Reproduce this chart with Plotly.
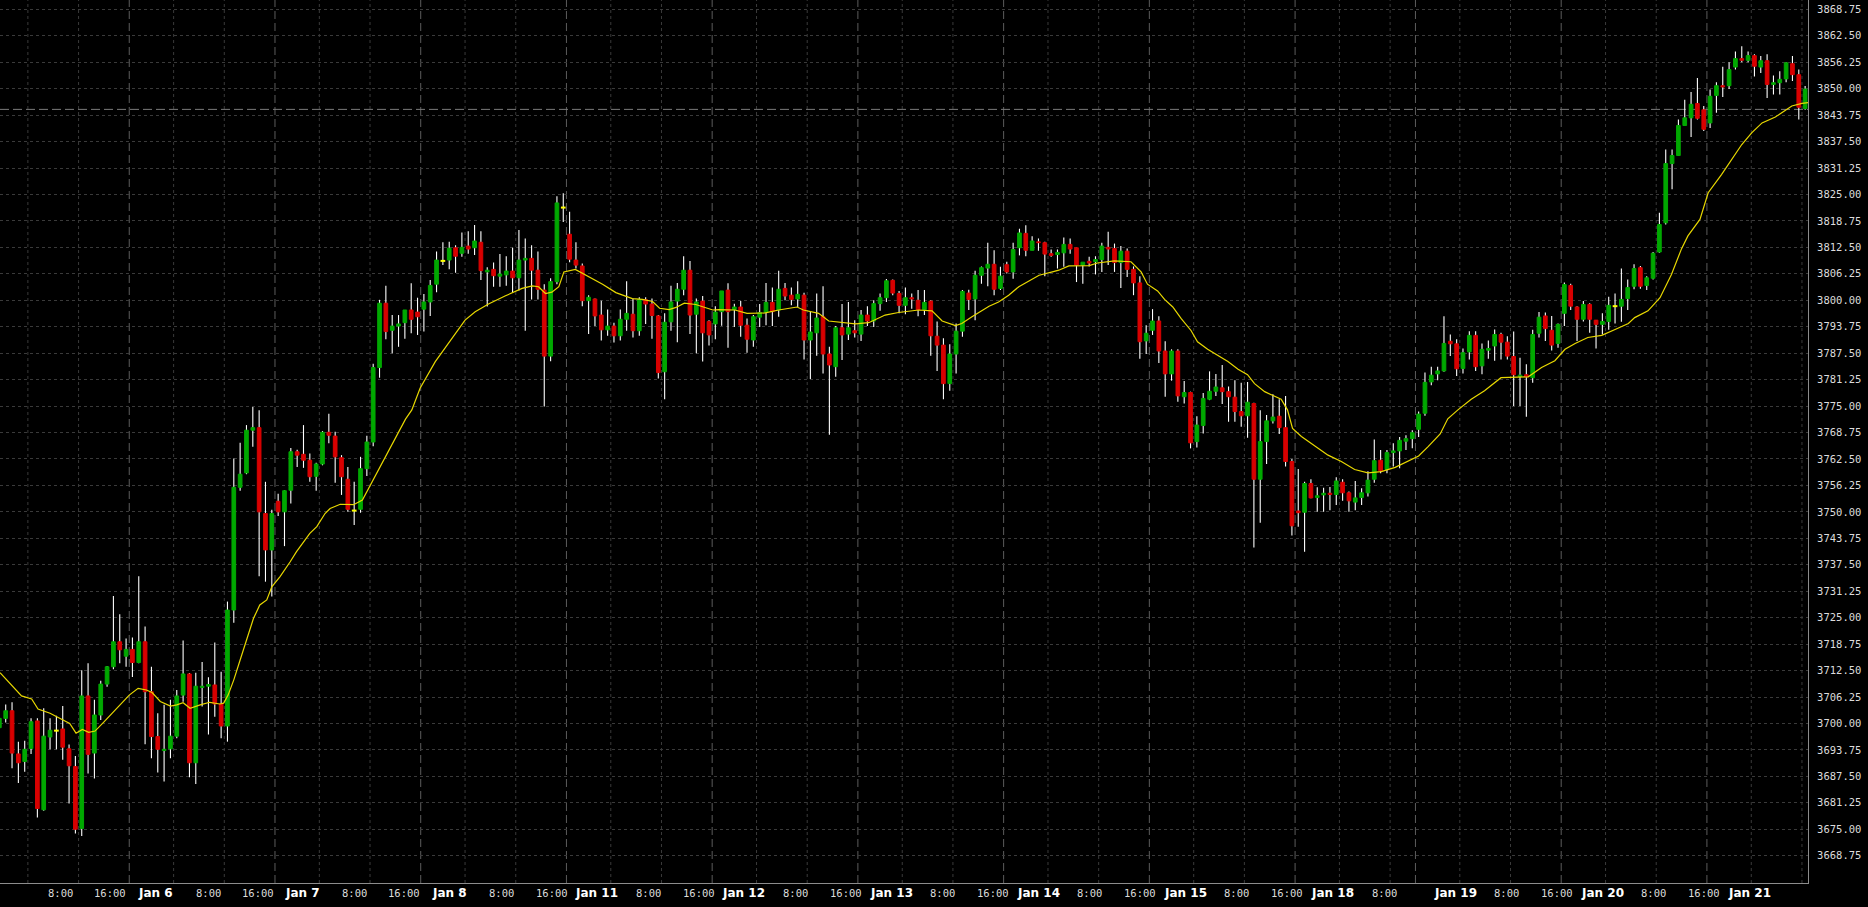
import plotly.graph_objects as go

# ---------------- data ----------------
bar_open = [
 3699.0,3701.2,3703.0,3692.8,3691.0,3694.1,3700.6,3679.6,3696.8,3698.3,
 3698.7,3694.0,3689.8,3675.2,3706.5,3693.0,3702.0,3709.3,3713.4,3719.3,
 3715.9,3717.5,3714.4,3719.3,3707.5,3696.9,3693.6,3694.0,3697.0,3706.7,
 3711.7,3690.7,3708.5,3708.8,3709.1,3704.6,3699.4,3726.8,3755.8,3759.2,
 3769.3,3769.9,3749.6,3741.0,3752.5,3750.0,3755.1,3764.2,3763.6,3762.2,
 3758.4,3761.3,3768.8,3767.9,3762.8,3757.7,3750.3,3750.6,3760.2,3766.5,
 3784.1,3799.3,3792.9,3793.9,3794.7,3797.7,3797.2,3797.9,3799.6,3803.8,
 3809.3,3809.5,3812.4,3811.1,3812.8,3812.4,3813.7,3806.7,3807.3,3805.7,
 3806.0,3806.9,3805.3,3809.5,3809.9,3807.1,3802.4,3786.8,3804.4,3821.9,
 3815.6,3809.5,3808.1,3799.9,3800.3,3796.5,3793.0,3793.9,3791.6,3795.5,
 3796.7,3792.8,3800.1,3799.1,3796.3,3783.1,3794.9,3799.8,3802.6,3807.1,
 3796.7,3799.8,3795.0,3794.4,3797.3,3802.4,3797.8,3798.4,3794.1,3790.6,
 3796.0,3797.1,3799.5,3797.7,3802.8,3801.2,3800.3,3801.2,3790.6,3792.3,
 3796.1,3787.3,3784.3,3793.5,3792.0,3792.8,3792.0,3796.5,3795.1,3799.2,
 3800.6,3804.7,3801.6,3798.8,3800.6,3800.0,3797.8,3799.8,3791.5,3789.4,
 3780.3,3787.3,3792.7,3801.7,3800.3,3805.9,3807.6,3808.5,3802.8,3808.4,
 3806.7,3812.4,3815.8,3811.8,3813.8,3813.6,3811.0,3810.8,3811.2,3813.2,
 3812.4,3808.3,3809.2,3809.1,3809.6,3812.5,3812.2,3808.9,3811.6,3807.3,
 3804.1,3790.4,3792.9,3795.1,3788.0,3782.6,3788.0,3777.2,3778.2,3766.6,
 3770.4,3776.6,3778.5,3779.3,3778.4,3777.1,3773.7,3772.7,3775.6,3757.7,
 3766.6,3771.5,3772.6,3769.9,3761.9,3750.2,3749.9,3756.7,3753.4,3754.0,
 3754.4,3754.1,3757.0,3754.5,3752.3,3753.4,3754.5,3757.7,3762.2,3760.0,
 3764.0,3764.4,3766.7,3767.3,3769.5,3773.3,3780.7,3782.6,3783.3,3790.3,
 3789.7,3783.9,3787.8,3791.7,3784.5,3788.2,3789.2,3791.9,3790.1,3786.7,
 3782.0,3782.4,3781.7,3792.2,3796.3,3792.9,3789.8,3796.9,3803.5,3798.4,
 3795.5,3799.0,3795.3,3794.3,3795.0,3798.6,3798.6,3800.4,3803.3,3807.7,
 3803.5,3805.2,3811.4,3818.3,3832.3,3834.2,3841.3,3843.1,3846.5,3845.0,
 3841.9,3848.4,3850.7,3850.7,3855.1,3857.1,3856.7,3857.8,3855.1,3856.6,
 3851.0,3851.4,3852.3,3855.9,3853.3,3845.3]
bar_high = [
 3702.0,3704.5,3705.0,3695.7,3695.9,3701.2,3701.2,3703.6,3701.2,3701.8,
 3704.1,3695.0,3692.3,3712.6,3714.2,3705.6,3710.1,3713.6,3730.1,3725.8,
 3720.1,3720.3,3734.8,3722.9,3713.4,3702.4,3704.4,3705.6,3707.9,3719.6,
 3711.9,3712.0,3714.5,3710.9,3719.1,3712.2,3728.8,3762.6,3766.3,3770.5,
 3774.8,3774.0,3757.1,3750.5,3754.3,3755.1,3765.1,3764.7,3770.5,3763.8,
 3761.6,3769.1,3773.2,3768.9,3763.4,3760.6,3757.1,3763.0,3768.0,3785.0,
 3800.1,3803.4,3796.5,3796.5,3797.7,3804.0,3800.6,3801.5,3804.8,3811.5,
 3813.7,3813.8,3813.0,3816.0,3816.3,3817.8,3816.3,3807.8,3808.9,3810.9,
 3810.4,3812.4,3816.6,3814.6,3813.0,3811.5,3803.8,3805.2,3824.6,3825.3,
 3820.9,3813.7,3808.7,3801.2,3800.4,3799.9,3797.8,3794.7,3797.8,3804.5,
 3800.4,3800.7,3800.7,3800.4,3796.5,3796.9,3803.4,3804.1,3810.4,3809.3,
 3800.4,3801.0,3795.3,3798.6,3802.2,3804.0,3799.2,3799.8,3795.7,3796.5,
 3799.1,3804.1,3803.0,3807.0,3804.1,3803.0,3804.5,3801.8,3797.3,3801.6,
 3803.3,3789.0,3793.9,3799.1,3799.6,3795.3,3797.7,3798.6,3800.0,3801.6,
 3805.0,3804.9,3802.2,3803.0,3801.6,3802.4,3802.4,3800.0,3795.0,3791.0,
 3789.6,3794.5,3802.4,3802.5,3807.0,3808.0,3813.6,3811.8,3807.9,3809.1,
 3813.6,3816.9,3817.7,3815.1,3814.6,3813.8,3812.0,3812.0,3814.8,3814.6,
 3812.4,3808.8,3810.3,3810.4,3813.6,3816.2,3813.4,3812.8,3812.2,3808.0,
 3805.7,3794.1,3797.9,3796.2,3790.3,3788.4,3788.4,3780.9,3778.4,3772.6,
 3778.1,3783.2,3782.6,3784.7,3779.6,3781.1,3780.5,3780.7,3775.8,3774.0,
 3772.9,3777.8,3776.6,3777.4,3762.5,3760.1,3757.1,3757.7,3755.8,3755.7,
 3755.9,3758.2,3757.7,3754.8,3757.3,3755.6,3759.6,3767.1,3764.6,3764.6,
 3766.2,3767.7,3768.1,3769.3,3773.7,3782.9,3784.3,3784.3,3796.2,3791.9,
 3790.8,3788.6,3792.7,3792.7,3789.8,3790.5,3793.1,3792.3,3791.5,3792.6,
 3786.4,3784.9,3793.0,3797.2,3797.1,3796.3,3794.5,3804.2,3803.9,3798.6,
 3799.8,3799.3,3795.3,3796.9,3800.8,3801.6,3807.5,3804.9,3808.5,3808.1,
 3805.7,3811.4,3820.7,3835.6,3835.6,3842.7,3847.4,3849.2,3852.5,3845.9,
 3849.8,3851.5,3855.2,3856.25,3858.8,3860.0,3858.8,3858.1,3857.7,3858.1,
 3853.1,3854.1,3856.25,3857.7,3854.5,3850.6]
bar_low = [
 3697.5,3700.2,3689.4,3685.9,3688.6,3692.8,3677.8,3679.4,3693.9,3693.9,
 3691.4,3681.1,3674.0,3673.4,3688.2,3687.0,3700.8,3708.7,3712.8,3714.2,
 3713.4,3711.0,3714.2,3695.1,3691.8,3688.4,3686.3,3691.8,3696.5,3705.1,
 3687.3,3685.7,3704.0,3697.4,3701.6,3696.5,3695.7,3723.8,3755.0,3758.9,
 3765.4,3734.8,3733.5,3730.0,3749.0,3741.9,3752.0,3760.6,3760.4,3757.1,
 3755.0,3761.0,3766.2,3756.9,3754.0,3750.0,3746.9,3749.8,3758.5,3765.5,
 3781.7,3790.8,3787.5,3789.0,3790.9,3792.2,3791.8,3792.6,3796.3,3801.9,
 3808.3,3807.3,3806.5,3810.3,3811.0,3810.7,3804.8,3798.5,3803.2,3803.2,
 3803.4,3801.8,3802.3,3792.8,3800.2,3800.2,3774.9,3785.6,3803.8,3818.5,
 3809.0,3807.5,3798.6,3792.0,3793.9,3790.5,3791.6,3790.0,3790.5,3792.8,
 3791.2,3791.6,3794.4,3790.9,3781.5,3776.6,3792.8,3790.1,3801.2,3792.0,
 3787.5,3785.5,3789.3,3790.8,3794.0,3788.8,3793.7,3791.4,3787.6,3789.0,
 3793.7,3794.1,3793.9,3796.1,3800.0,3798.8,3798.4,3786.0,3781.4,3786.9,
 3782.7,3768.2,3781.9,3785.9,3790.6,3791.2,3790.4,3793.9,3793.7,3797.5,
 3799.6,3801.2,3796.9,3796.7,3798.0,3796.2,3796.5,3786.9,3783.3,3776.6,
 3778.6,3782.7,3791.4,3797.7,3795.3,3803.9,3803.3,3801.2,3802.4,3806.3,
 3805.1,3810.6,3810.4,3811.8,3811.7,3805.7,3810.3,3807.5,3807.9,3811.0,
 3804.3,3803.9,3808.0,3806.1,3806.7,3808.3,3806.7,3802.9,3805.5,3801.2,
 3786.2,3787.3,3791.8,3785.2,3777.2,3781.0,3776.0,3775.6,3765.0,3765.2,
 3768.5,3776.4,3777.4,3775.5,3771.3,3771.3,3770.1,3767.5,3741.6,3747.4,
 3761.3,3770.9,3768.4,3760.7,3744.4,3746.5,3740.6,3753.2,3750.0,3750.0,
 3750.4,3751.6,3752.6,3750.0,3750.4,3751.6,3753.6,3756.9,3759.1,3759.1,
 3760.7,3760.3,3764.6,3765.0,3767.7,3772.7,3779.9,3781.1,3783.1,3786.8,
 3782.1,3782.7,3786.0,3783.3,3782.5,3786.2,3785.7,3786.0,3786.0,3775.0,
 3775.0,3772.5,3780.5,3791.2,3790.4,3788.1,3788.8,3793.9,3797.7,3790.4,
 3795.0,3792.3,3788.6,3791.9,3793.0,3794.5,3794.9,3797.7,3802.6,3802.7,
 3802.4,3804.9,3811.2,3817.9,3826.2,3834.1,3841.3,3838.6,3842.7,3840.0,
 3840.7,3844.3,3848.0,3849.9,3854.5,3856.25,3856.25,3852.9,3853.7,3847.8,
 3848.6,3848.6,3851.5,3851.8,3842.7,3845.0]
bar_close = [
 3701.2,3703.0,3693.0,3690.7,3693.9,3700.4,3679.9,3697.0,3698.4,3698.3,
 3694.4,3690.0,3675.0,3706.5,3692.7,3702.0,3709.3,3713.4,3719.3,3717.4,
 3717.5,3714.4,3719.3,3707.5,3696.9,3693.9,3693.9,3697.0,3706.5,3711.7,
 3690.7,3708.8,3708.8,3709.2,3704.6,3699.4,3726.8,3755.8,3758.9,3769.3,
 3769.9,3750.0,3741.0,3749.6,3750.0,3755.0,3764.2,3763.4,3762.2,3758.3,
 3761.3,3768.8,3768.1,3763.0,3758.3,3750.6,3750.3,3760.2,3766.5,3784.1,
 3799.3,3792.6,3793.9,3794.4,3797.7,3795.5,3796.1,3799.6,3803.5,3809.5,
 3809.3,3812.3,3810.4,3812.5,3812.1,3814.0,3807.0,3807.1,3805.8,3806.2,
 3806.9,3805.3,3809.5,3809.9,3807.1,3802.6,3786.8,3804.4,3823.0,3821.9,
 3809.7,3808.3,3799.9,3800.7,3796.3,3793.0,3793.9,3791.6,3795.5,3796.9,
 3792.8,3800.2,3799.1,3796.4,3782.9,3794.8,3799.6,3802.6,3807.1,3796.5,
 3799.6,3792.3,3791.8,3797.2,3802.2,3797.3,3798.4,3794.1,3790.8,3796.1,
 3797.1,3799.5,3797.3,3802.6,3801.0,3800.2,3801.4,3790.6,3792.5,3795.8,
 3787.3,3784.7,3793.5,3791.8,3793.5,3792.3,3796.5,3795.1,3799.2,3800.6,
 3804.6,3801.7,3798.8,3800.6,3800.3,3797.8,3799.5,3791.6,3789.4,3780.3,
 3787.3,3792.7,3802.1,3800.2,3805.9,3807.7,3808.5,3802.6,3805.7,3806.7,
 3812.0,3815.9,3811.8,3814.0,3813.6,3810.9,3810.6,3811.3,3813.2,3812.1,
 3808.3,3809.0,3808.8,3809.6,3812.8,3812.1,3808.9,3811.6,3807.3,3804.1,
 3790.2,3792.2,3795.1,3788.0,3782.6,3788.0,3777.4,3778.2,3766.3,3770.5,
 3776.8,3778.5,3779.5,3778.4,3777.2,3773.7,3772.7,3775.9,3757.7,3766.6,
 3771.5,3772.4,3769.9,3761.9,3746.7,3749.8,3756.7,3753.3,3753.8,3754.4,
 3754.1,3757.3,3754.5,3752.6,3753.3,3754.5,3757.5,3762.1,3759.7,3764.0,
 3764.4,3766.9,3767.3,3768.7,3773.1,3780.6,3782.3,3783.3,3789.8,3789.7,
 3783.8,3787.6,3791.7,3784.3,3788.4,3788.6,3791.9,3790.1,3786.8,3782.4,
 3782.3,3781.9,3791.9,3796.0,3793.3,3789.4,3794.3,3803.7,3798.6,3795.5,
 3799.0,3795.5,3794.3,3795.0,3798.8,3798.6,3800.2,3803.0,3807.5,3803.3,
 3805.3,3811.1,3817.9,3832.3,3834.2,3841.3,3843.1,3846.3,3843.0,3840.4,
 3848.2,3850.7,3850.4,3854.5,3857.1,3856.7,3857.8,3855.3,3856.6,3851.0,
 3851.4,3852.2,3856.1,3853.3,3845.6,3849.9]

# moving average readings (bar position, value)
ma_pos = [0.1,1.7,3.5,5.1,6.1,8.0,10.1,11.1,12.1,13.1,14.1,15.1,16.4,18.0,19.8,20.5,21.9,23.2,24.1,25.4,
          27.0,28.0,29.0,30.1,31.7,33.2,34.8,35.4,36.1,37.0,38.0,39.0,40.1,41.1,42.2,43.0,44.3,45.9,46.9,49.0,
          50.1,51.4,52.2,53.8,55.9,57.3,64.1,65.1,66.4,68.8,70.9,73.5,75.1,77.2,79.8,82.5,84.1,85.1,86.2,87.2,
          88.3,89.1,90.9,93.0,95.2,97.3,99.9,101.5,103.1,104.2,105.7,106.8,108.1,109.9,111.0,112.6,113.5,116.1,118.0,120.9,
          123.0,125.9,126.9,129.3,130.9,133.0,135.1,137.2,139.8,141.9,145.1,147.2,148.8,150.9,151.9,153.5,156.2,157.7,159.3,160.9,
          162.5,164.1,166.2,167.2,168.8,172.0,173.3,176.0,178.6,180.2,181.2,182.8,183.9,185.2,186.5,188.1,189.1,190.7,193.9,195.5,
          197.0,198.1,199.7,202.3,203.3,204.1,205.5,207.6,209.7,211.8,213.9,216.0,218.1,220.3,222.4,224.0,225.5,227.4,228.6,230.2,
          232.3,234.4,237.0,241.3,243.4,245.5,247.1,248.7,250.7,252.9,255.0,257.1,258.1,260.2,262.1,263.9,265.5,266.5,268.4,269.7,
          271.8,273.4,275.0,276.6,278.2,280.3,281.8,282.9,284.5,285.5]
ma_val = [3712.0,3709.5,3706.5,3705.8,3703.4,3702.4,3700.8,3700.0,3697.7,3698.6,3697.9,3698.2,3700.2,3702.8,3705.6,3706.7,3708.3,3707.9,3707.3,3705.2,
          3704.1,3704.4,3704.9,3703.6,3704.4,3705.0,3704.6,3704.8,3706.7,3710.3,3715.0,3719.7,3724.8,3728.0,3729.2,3732.3,3734.7,3738.2,3740.6,3744.9,
          3746.5,3749.6,3750.8,3751.8,3751.7,3752.8,3771.9,3774.1,3779.2,3785.5,3789.8,3795.3,3797.3,3799.1,3801.0,3802.8,3803.4,3803.2,3801.6,3801.9,
          3803.2,3806.7,3807.3,3805.6,3803.8,3801.8,3800.4,3800.2,3799.7,3798.1,3797.8,3798.3,3799.3,3799.0,3798.5,3797.7,3797.8,3797.7,3796.9,3797.0,
          3797.7,3798.4,3797.7,3796.9,3795.1,3794.8,3794.4,3794.7,3796.5,3797.1,3797.7,3797.5,3795.1,3794.0,3794.5,3796.1,3798.6,3799.6,3801.2,3803.2,
          3804.5,3805.9,3806.7,3807.1,3808.1,3808.2,3808.8,3809.3,3809.1,3806.7,3803.8,3802.2,3800.2,3798.4,3795.7,3792.8,3790.2,3788.4,3785.5,3783.7,
          3782.4,3780.3,3778.4,3776.6,3774.1,3769.7,3767.8,3765.5,3763.4,3761.9,3760.0,3759.2,3759.5,3760.5,3762.1,3763.2,3765.4,3768.4,3772.0,3774.1,
          3776.6,3778.6,3781.7,3781.9,3784.1,3785.7,3788.4,3789.8,3791.2,3791.7,3793.1,3794.5,3795.9,3797.5,3800.6,3806.1,3812.2,3815.2,3819.1,3825.4,
          3829.7,3833.3,3836.8,3839.6,3841.9,3843.3,3844.7,3845.9,3846.5,3846.7]

current_price = 3845.1

# time-axis labels and their bar positions
time_labels = ["8:00","16:00","Jan 6","8:00","16:00","Jan 7","8:00","16:00","Jan 8","8:00","16:00","Jan 11",
               "8:00","16:00","Jan 12","8:00","16:00","Jan 13","8:00","16:00","Jan 14","8:00","16:00","Jan 15",
               "8:00","16:00","Jan 18","8:00","Jan 19","8:00","16:00","Jan 20","8:00","16:00","Jan 21"]
label_pos = [9.68,17.51,24.63,32.93,40.76,47.83,56.1,63.93,71.01,79.32,87.21,94.2,
             102.5,110.46,117.39,125.66,133.67,140.76,148.87,156.84,164.0,172.13,180.09,187.2,
             195.33,203.24,210.41,218.68,229.87,237.9,245.9,253.0,261.13,269.1,276.16]
day_lines = [20.5,43.5,66.5,89.5,112.5,135.5,158.5,181.5,204.5,223.5,246.5,269.5]
hour_lines = [4.5,12.5,27.5,35.5,50.5,58.5,73.5,81.5,96.5,104.5,119.5,127.5,142.5,150.5,
              165.5,173.5,188.5,196.5,211.5,219.5,230.5,238.5,253.5,261.5,276.5,284.5]
price_ticks = [3668.75 + 6.25 * k for k in range(33)]

# ---------------- figure ----------------
W, H = 1868, 907
PLOT_W, PLOT_H = 1808, 883
BAR_PX = 6.336
X0 = 0.10
X1 = X0 + PLOT_W / BAR_PX
PX_PER_PT = 4.232
Y1 = 3868.75 + 9.3 / PX_PER_PT
Y0 = Y1 - PLOT_H / PX_PER_PT

UP = "#00a800"
DN = "#d80000"
n = len(bar_open)

fig = go.Figure()

wx, wy = [], []
for i in range(n):
    wx += [i, i, None]
    wy += [bar_low[i], bar_high[i], None]
fig.add_trace(go.Scatter(x=wx, y=wy, mode="lines", line=dict(color="#ffffff", width=1.1),
                         hoverinfo="skip", showlegend=False))

hw = 0.29
def bodies(idx):
    xs, ys = [], []
    for i in idx:
        o, c = bar_open[i], bar_close[i]
        xs += [i - hw, i + hw, i + hw, i - hw, i - hw, None]
        ys += [o, o, c, c, o, None]
    return xs, ys

up_idx = [i for i in range(n) if bar_close[i] > bar_open[i]]
dn_idx = [i for i in range(n) if bar_close[i] < bar_open[i]]
dj_idx = [i for i in range(n) if bar_close[i] == bar_open[i]]

for idx, col in ((up_idx, UP), (dn_idx, DN)):
    xs, ys = bodies(idx)
    fig.add_trace(go.Scatter(x=xs, y=ys, mode="lines", fill="toself", fillcolor=col,
                             line=dict(color=col, width=1), hoverinfo="skip", showlegend=False))

dx, dy = [], []
for i in dj_idx:
    dx += [i - 0.37, i + 0.37, None]
    dy += [bar_open[i], bar_open[i], None]
fig.add_trace(go.Scatter(x=dx, y=dy, mode="lines", line=dict(color="#ffff00", width=2),
                         hoverinfo="skip", showlegend=False))

fig.add_trace(go.Scatter(x=ma_pos, y=ma_val, mode="lines", line=dict(color="#e8d800", width=1.2),
                         hoverinfo="skip", showlegend=False))

shapes = []
for xv in hour_lines:
    shapes.append(dict(type="line", xref="x", yref="paper", x0=xv, x1=xv, y0=0, y1=1, layer="below",
                       line=dict(color="#3a3a3a", width=1, dash="3px,3px")))
for xv in day_lines:
    shapes.append(dict(type="line", xref="x", yref="paper", x0=xv, x1=xv, y0=0, y1=1, layer="below",
                       line=dict(color="#5c5c5c", width=1, dash="8px,4px")))
shapes.append(dict(type="line", xref="paper", yref="y", x0=0, x1=1, y0=current_price, y1=current_price,
                   layer="below", line=dict(color="#7a7a7a", width=1, dash="9px,4px")))

annotations = []
for txt, pos in zip(time_labels, label_pos):
    is_day = txt.startswith("Jan")
    annotations.append(dict(
        x=pos, y=0, xref="x", yref="paper", text=txt, showarrow=False,
        xanchor="center", yanchor="middle", yshift=-10,
        font=dict(family="DejaVu Sans" if is_day else "DejaVu Sans Mono",
                  size=12 if is_day else 10.5,
                  color="#ffffff" if is_day else "#dcdcdc",
                  weight="bold" if is_day else "normal")))

fig.update_layout(
    width=W, height=H,
    margin=dict(l=0, r=W - PLOT_W, t=0, b=H - PLOT_H, pad=0),
    paper_bgcolor="#000000", plot_bgcolor="#000000",
    showlegend=False, hovermode=False,
    shapes=shapes, annotations=annotations,
    xaxis=dict(range=[X0, X1], showgrid=False, zeroline=False, showticklabels=False,
               ticks="", showline=True, linecolor="#8c8c8c", linewidth=1, fixedrange=True),
    yaxis=dict(range=[Y0, Y1], side="right", tickvals=price_ticks,
               ticktext=[f"{v:.2f}" for v in price_ticks],
               showgrid=True, gridcolor="#3a3a3a", griddash="3px,3px", gridwidth=1,
               zeroline=False, ticks="", ticklabelstandoff=6,
               showline=True, linecolor="#8c8c8c", linewidth=1,
               tickfont=dict(family="DejaVu Sans Mono", size=10.5, color="#dcdcdc"),
               fixedrange=True),
)

fig.write_html("out.html", config={"displayModeBar": False},
               post_script="document.body.style.margin='0px';document.body.style.background='#000';")
